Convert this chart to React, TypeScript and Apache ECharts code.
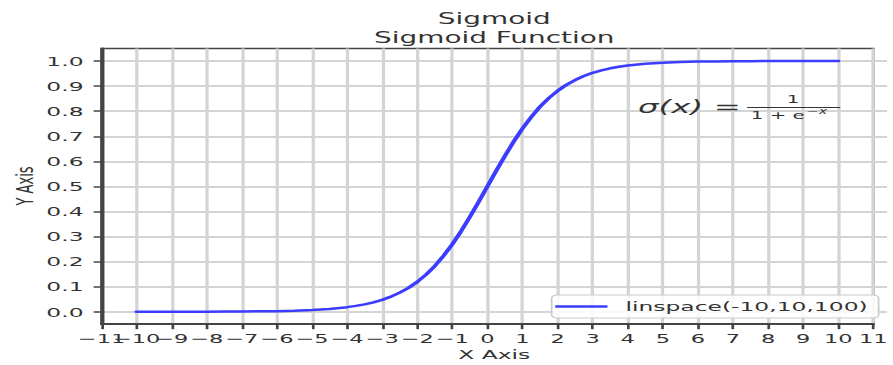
import React, { useEffect, useRef } from "react";
import * as echarts from "echarts";

// ---- data ----
const xValues = [
  -10, -9.5, -9, -8.5, -8, -7.5, -7, -6.5, -6, -5.5, -5, -4.5, -4, -3.75, -3.5, -3.25, -3, -2.75, -2.5, -2.25,
  -2, -1.75, -1.5, -1.25, -1, -0.75, -0.5, -0.25, 0, 0.25, 0.5, 0.75, 1, 1.25, 1.5, 1.75, 2, 2.25, 2.5, 2.75,
  3, 3.25, 3.5, 3.75, 4, 4.5, 5, 5.5, 6, 6.5, 7, 7.5, 8, 8.5, 9, 9.5, 10,
];
const yValues = [
  0.0, 0.0, 0.0, 0.0, 0.0, 0.001, 0.001, 0.002, 0.002, 0.004, 0.007, 0.011, 0.018, 0.023, 0.029, 0.037, 0.047,
  0.06, 0.076, 0.095, 0.119, 0.148, 0.182, 0.223, 0.269, 0.321, 0.378, 0.438, 0.5, 0.562, 0.622, 0.679, 0.731,
  0.777, 0.818, 0.852, 0.881, 0.905, 0.924, 0.94, 0.953, 0.963, 0.971, 0.977, 0.982, 0.989, 0.993, 0.996, 0.998,
  0.998, 0.999, 0.999, 1.0, 1.0, 1.0, 1.0, 1.0,
];
const seriesName = "linspace(-10,10,100)";
const titleLines = ["Sigmoid", "Sigmoid Function"];
const xAxisName = "X Axis";
const yAxisName = "Y Axis";

const W = 496;
const H = 365;
const S = 893 / W;
const FONT = "DejaVu Sans";

export default function App() {
  const ref = useRef<HTMLDivElement>(null);
  useEffect(() => {
    if (!ref.current) return;
    const chart = echarts.init(ref.current, undefined, { renderer: "svg", width: W, height: H });
    const gridLeft = 56.4;
    const gridRight = 3.3;
    const plotCenter = (gridLeft + (W - gridRight)) / 2;
    const gridColor = "#d4d4d4";
    const axisColor = "#444";
    const txtColor = "#333";
    const fmtX = (v: number) => String(v).replace("-", "\u2212");
    const xLabelBase = {
      margin: 8,
      fontSize: 12.5,
      fontFamily: FONT,
      color: txtColor,
      showMinLabel: true,
      showMaxLabel: true,
      hideOverlap: false,
    };
    const option: any = {
      animation: false,
      backgroundColor: "#fff",
      grid: [
        { left: gridLeft, right: gridRight, top: 48.5, bottom: 40.8, show: true, borderColor: axisColor, borderWidth: 1.5 },
        { left: gridLeft, right: gridRight, top: 61.1, bottom: 53.3 },
      ],
      xAxis: [
        {
          gridIndex: 0,
          type: "value",
          position: "bottom",
          min: -11,
          max: 11,
          interval: 1,
          axisLine: { show: true, onZero: false, lineStyle: { color: axisColor, width: 2 } },
          axisTick: { show: true, length: 5, lineStyle: { color: axisColor, width: 1.5 } },
          axisLabel: { ...xLabelBase, formatter: (v: number) => (v === -11 ? "" : fmtX(v)) },
          splitLine: { show: true, lineStyle: { color: gridColor, width: 1.8 } },
        },
        { gridIndex: 1, type: "value", min: -11, max: 11, show: false },
        {
          gridIndex: 0,
          type: "value",
          position: "bottom",
          offset: 0,
          min: -11,
          max: 11,
          interval: 1,
          axisLine: { show: false, onZero: false },
          axisTick: { show: false },
          splitLine: { show: false },
          axisLabel: { ...xLabelBase, formatter: (v: number) => (v === -11 ? fmtX(v) : "") },
        },
      ],
      yAxis: [
        {
          gridIndex: 0,
          type: "value",
          min: -0.05,
          max: 1.05,
          axisLine: { show: true, onZero: false, lineStyle: { color: axisColor, width: 2 } },
          axisTick: { show: false },
          axisLabel: { show: false },
          splitLine: { show: false },
        },
        {
          gridIndex: 1,
          type: "value",
          min: 0,
          max: 1,
          interval: 0.1,
          axisLine: { show: false, onZero: false },
          axisTick: { show: true, length: 4.4, lineStyle: { color: axisColor, width: 1.5 } },
          axisLabel: {
            margin: 10,
            fontSize: 13,
            fontFamily: FONT,
            color: txtColor,
            formatter: (v: number) => v.toFixed(1),
          },
          splitLine: { show: true, lineStyle: { color: gridColor, width: 1.8 } },
        },
      ],
      legend: {
        left: 306.4,
        top: 295,
        padding: [5, 6, 5, 2],
        backgroundColor: "rgba(255,255,255,0.85)",
        borderColor: "#ccc",
        borderWidth: 1,
        borderRadius: 3,
        itemWidth: 29,
        itemHeight: 2.5,
        icon: "rect",
        textStyle: { fontSize: 13, fontFamily: FONT, color: "#333", padding: [0, 0, 0, 5] },
        data: [seriesName],
      },
      series: [
        {
          name: seriesName,
          type: "line",
          xAxisIndex: 0,
          yAxisIndex: 0,
          data: xValues.map((x, i) => [x, yValues[i]]),
          showSymbol: false,
          smooth: false,
          lineStyle: { color: "#3c3cff", width: 2.5, join: "round", cap: "round" },
          itemStyle: { color: "#3c3cff" },
          z: 5,
        },
      ],
      graphic: [
        {
          type: "text",
          x: plotCenter,
          y: 19,
          style: { text: titleLines[0], fontSize: 15.5, fontFamily: FONT, fill: "#333", align: "center", verticalAlign: "middle", textAlign: "center", textVerticalAlign: "middle" },
        },
        {
          type: "text",
          x: plotCenter,
          y: 38,
          style: { text: titleLines[1], fontSize: 15.5, fontFamily: FONT, fill: "#333", align: "center", verticalAlign: "middle", textAlign: "center", textVerticalAlign: "middle" },
        },
        {
          type: "text",
          x: plotCenter,
          y: 354,
          style: { text: xAxisName, fontSize: 13, fontFamily: FONT, fill: "#333", align: "center", verticalAlign: "middle", textAlign: "center", textVerticalAlign: "middle" },
        },
        {
          type: "text",
          x: 13.3,
          y: 186,
          rotation: Math.PI / 2,
          style: { text: yAxisName, fontSize: 13, fontFamily: FONT, fill: "#333", align: "center", verticalAlign: "middle", textAlign: "center", textVerticalAlign: "middle" },
        },
        {
          type: "text",
          x: 354.4,
          y: 107,
          z: 10,
          style: { text: "σ(x)", fontSize: 18, fontStyle: "italic", fontFamily: FONT, fill: "#333", align: "left", verticalAlign: "middle", textAlign: "left", textVerticalAlign: "middle" },
        },
        {
          type: "text",
          x: 404,
          y: 107,
          z: 10,
          style: { text: "=", fontSize: 18, fontFamily: FONT, fill: "#333", align: "center", verticalAlign: "middle", textAlign: "center", textVerticalAlign: "middle" },
        },
        {
          type: "text",
          x: 440.5,
          y: 99.5,
          z: 10,
          style: { text: "1", fontSize: 11, fontFamily: FONT, fill: "#333", align: "center", verticalAlign: "middle", textAlign: "center", textVerticalAlign: "middle" },
        },
        {
          type: "line",
          z: 10,
          shape: { x1: 415, y1: 107.5, x2: 466.7, y2: 107.5 },
          style: { stroke: "#333", lineWidth: 1 },
        },
        {
          type: "text",
          x: 417,
          y: 115.5,
          z: 10,
          style: { text: "1 + e", fontSize: 11, fontFamily: FONT, fill: "#333", align: "left", verticalAlign: "middle", textAlign: "left", textVerticalAlign: "middle" },
        },
        {
          type: "text",
          x: 448,
          y: 111.5,
          z: 10,
          style: { text: "\u2212x", fontSize: 8, fontStyle: "italic", fontFamily: FONT, fill: "#333", align: "left", verticalAlign: "middle", textAlign: "left", textVerticalAlign: "middle" },
        },
      ],
    };
    chart.setOption(option);
    return () => chart.dispose();
  }, []);
  return (
    <div
      style={{
        position: "fixed",
        left: 0,
        top: 0,
        width: W,
        height: H,
        transform: `scaleX(${S})`,
        transformOrigin: "0 0",
        background: "#fff",
      }}
    >
      <div ref={ref} style={{ width: W, height: H }} />
    </div>
  );
}
